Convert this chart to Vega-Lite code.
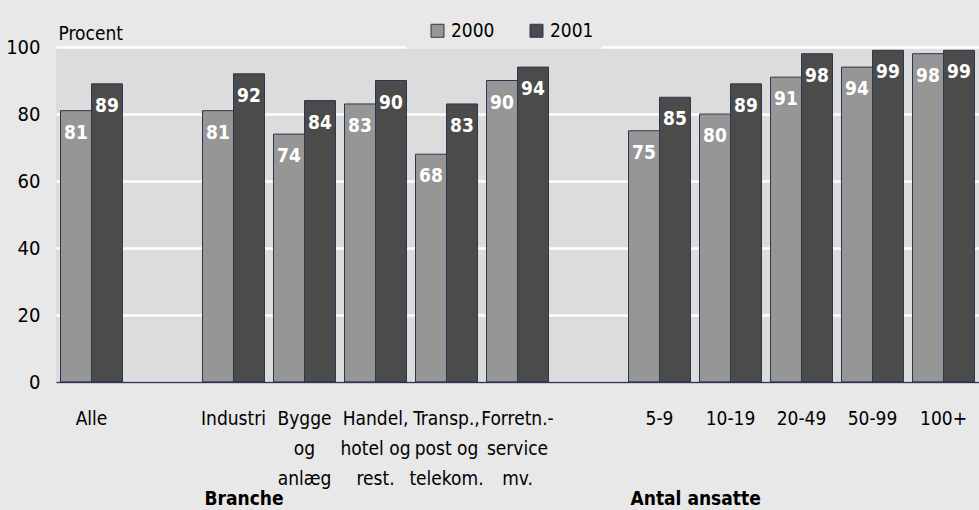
{
  "$schema": "https://vega.github.io/schema/vega-lite/v6.json",
  "autosize": {"type": "none"},
  "padding": {"left": 56, "top": 47, "right": 0, "bottom": 128},
  "width": 923,
  "height": 335,
  "background": "#e8e8e8",
  "config": {
    "font": "DejaVu Sans Condensed, sans-serif",
    "view": {"fill": "#dcdcdc", "stroke": null}
  },
  "datasets": {
    "bars": [
      {"cat": "Alle", "year": "2000", "value": 81},
      {"cat": "Alle", "year": "2001", "value": 89},
      {"cat": "Industri", "year": "2000", "value": 81},
      {"cat": "Industri", "year": "2001", "value": 92},
      {"cat": "Bygge|og|anlæg", "year": "2000", "value": 74},
      {"cat": "Bygge|og|anlæg", "year": "2001", "value": 84},
      {"cat": "Handel,|hotel og|rest.", "year": "2000", "value": 83},
      {"cat": "Handel,|hotel og|rest.", "year": "2001", "value": 90},
      {"cat": "Transp.,|post og|telekom.", "year": "2000", "value": 68},
      {"cat": "Transp.,|post og|telekom.", "year": "2001", "value": 83},
      {"cat": "Forretn.-|service|mv.", "year": "2000", "value": 90},
      {"cat": "Forretn.-|service|mv.", "year": "2001", "value": 94},
      {"cat": "5-9", "year": "2000", "value": 75},
      {"cat": "5-9", "year": "2001", "value": 85},
      {"cat": "10-19", "year": "2000", "value": 80},
      {"cat": "10-19", "year": "2001", "value": 89},
      {"cat": "20-49", "year": "2000", "value": 91},
      {"cat": "20-49", "year": "2001", "value": 98},
      {"cat": "50-99", "year": "2000", "value": 94},
      {"cat": "50-99", "year": "2001", "value": 99},
      {"cat": "100+", "year": "2000", "value": 98},
      {"cat": "100+", "year": "2001", "value": 99}
    ],
    "groups": [
      {"cat": "Industri", "title": "Branche"},
      {"cat": "5-9", "title": "Antal ansatte"}
    ]
  },
  "layer": [
    {
      "data": {"name": "bars"},
      "mark": {"type": "bar", "stroke": "#2b3650", "strokeWidth": 1},
      "encoding": {
        "x": {
          "field": "cat",
          "type": "nominal",
          "sort": null,
          "scale": {
            "domain": ["Alle", "gap1", "Industri", "Bygge|og|anlæg", "Handel,|hotel og|rest.", "Transp.,|post og|telekom.", "Forretn.-|service|mv.", "gap2", "5-9", "10-19", "20-49", "50-99", "100+"],
            "paddingInner": 0.127,
            "paddingOuter": 0.0635
          },
          "axis": {
            "title": null,
            "ticks": false,
            "domain": true,
            "domainColor": "#2b3650",
            "domainWidth": 1.5,
            "labelAngle": 0,
            "labelFontSize": 19,
            "labelColor": "#000000",
            "labelPadding": 27,
            "labelLineHeight": 30,
            "labelBaseline": "top",
            "zindex": 1,
            "labelExpr": "indexof(datum.value, 'gap') == 0 ? '' : split(datum.value, '|')"
          }
        },
        "xOffset": {"field": "year", "type": "nominal", "scale": {"paddingInner": 0, "paddingOuter": 0}},
        "y": {
          "field": "value",
          "type": "quantitative",
          "scale": {"domain": [0, 100], "nice": false},
          "axis": {
            "values": [0, 20, 40, 60, 80, 100],
            "grid": true,
            "gridColor": "#ffffff",
            "gridWidth": 2.5,
            "domain": false,
            "ticks": false,
            "labelFontSize": 20,
            "labelColor": "#000000",
            "labelPadding": 16,
            "title": "Procent",
            "titleAngle": 0,
            "titleX": 2,
            "titleY": -8,
            "titleAlign": "left",
            "titleBaseline": "alphabetic",
            "titleFontSize": 19,
            "titleFontWeight": "normal",
            "titleColor": "#000000"
          }
        },
        "color": {
          "field": "year",
          "type": "nominal",
          "scale": {"domain": ["2000", "2001"], "range": ["#969696", "#4b4b4b"]},
          "legend": {
            "title": null,
            "orient": "none",
            "legendX": 350,
            "legendY": -34,
            "direction": "horizontal",
            "fillColor": "#e8e8e8",
            "padding": 8,
            "symbolOffset": 14,
            "symbolType": "square",
            "symbolSize": 169,
            "symbolStrokeColor": "#2b3650",
            "symbolStrokeWidth": 1,
            "symbolOpacity": 1,
            "labelFontSize": 19,
            "labelColor": "#000000",
            "labelOffset": 4,
            "columnPadding": 18
          }
        }
      }
    },
    {
      "data": {"name": "bars"},
      "mark": {"type": "text", "color": "#ffffff", "fontSize": 19, "fontWeight": "bold", "baseline": "middle", "dy": 22},
      "encoding": {
        "x": {"field": "cat", "type": "nominal", "sort": null},
        "xOffset": {"field": "year", "type": "nominal"},
        "y": {"field": "value", "type": "quantitative"},
        "text": {"field": "value", "type": "quantitative"}
      }
    },
    {
      "data": {"name": "groups"},
      "mark": {"type": "text", "color": "#000000", "fontSize": 19, "fontWeight": "bold", "align": "left", "baseline": "middle", "dx": 2},
      "encoding": {
        "x": {"field": "cat", "type": "nominal", "sort": null, "bandPosition": 0},
        "y": {"datum": -35, "type": "quantitative"},
        "text": {"field": "title"}
      }
    }
  ]
}
